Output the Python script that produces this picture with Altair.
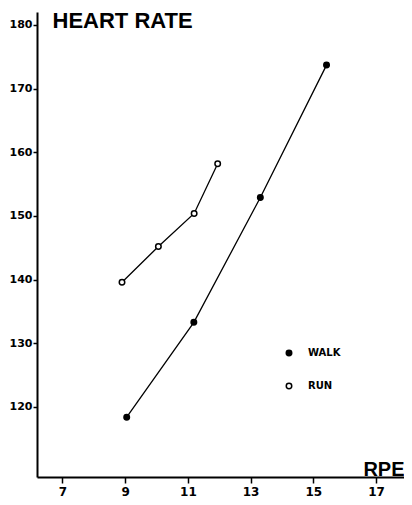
import altair as alt
import pandas as pd

# Data
walk_rpe = [9.05, 11.19, 13.31, 15.42]
walk_hr = [118.4, 133.3, 152.9, 173.7]
run_rpe = [8.90, 10.06, 11.20, 11.95]
run_hr = [139.6, 145.2, 150.4, 158.2]
series = ["WALK", "RUN"]
x_ticks = [7, 9, 11, 13, 15, 17]
y_ticks = [120, 130, 140, 150, 160, 170, 180]

df = pd.DataFrame({
    "rpe": walk_rpe + run_rpe,
    "hr": walk_hr + run_hr,
    "series": [series[0]] * len(walk_rpe) + [series[1]] * len(run_rpe),
})

x_enc = alt.X(
    "rpe:Q",
    scale=alt.Scale(domain=[6.19, 17.89], nice=False, zero=False),
    axis=alt.Axis(
        values=x_ticks, title="RPE", titleX=367, titleY=-2,
        titleAlign="right", titleBaseline="alphabetic",
        titleFont="Liberation Sans", titleFontSize=20, titleFontWeight="bold",
        tickSize=6, labelPadding=3, labelBaseline="top", labelFontSize=12,
    ),
)
y_enc = alt.Y(
    "hr:Q",
    scale=alt.Scale(domain=[109.0, 182.04], nice=False, zero=False),
    axis=alt.Axis(
        values=y_ticks, title="HEART RATE", titleAngle=0, titleX=15, titleY=15,
        titleAlign="left", titleBaseline="alphabetic",
        titleFont="Liberation Sans", titleFontSize=22, titleFontWeight="bold",
        tickSize=4, labelPadding=1, labelFontSize=11,
    ),
)

lines = alt.Chart(df).mark_line(color="black", strokeWidth=1.3).encode(
    x=x_enc, y=y_enc, detail="series:N"
)

points = alt.Chart(df).mark_point(
    shape="circle", size=30, filled=True, stroke="black", strokeWidth=1.5, opacity=1
).encode(
    x=x_enc,
    y=y_enc,
    fill=alt.Fill(
        "series:N",
        scale=alt.Scale(domain=series, range=["black", "white"]),
        legend=alt.Legend(
            orient="none", legendX=247, legendY=336, title=None,
            symbolType="circle", symbolSize=30, symbolStrokeColor="black",
            symbolStrokeWidth=1.5, labelFont="DejaVu Sans", labelFontSize=10,
            labelFontWeight=600, labelColor="black", labelOffset=14,
            rowPadding=21, padding=0,
        ),
    ),
)

chart = (
    alt.layer(lines, points)
    .properties(
        width=367, height=465,
        autosize=alt.AutoSizeParams(type="none"),
        padding={"left": 29, "top": 4, "right": 0, "bottom": 20},
    )
    .configure_view(stroke=None)
    .configure_axis(
        grid=False, domainColor="black", domainWidth=2, tickColor="black",
        tickWidth=1.5, labelFont="DejaVu Sans",
        labelFontWeight="bold", labelColor="black", titleColor="black",
    )
)

chart.save("out.html", embed_options={"renderer": "svg", "actions": False})
